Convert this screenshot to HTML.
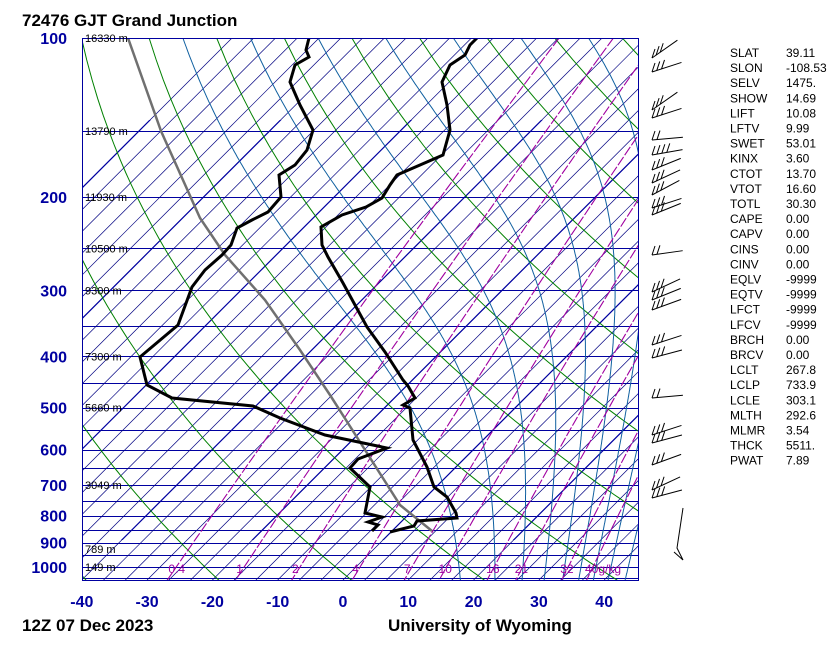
<!DOCTYPE html>
<html><head><meta charset="utf-8"><style>
body{margin:0;background:#fff;width:834px;height:650px;overflow:hidden}
svg{display:block}
.t{font-family:"Liberation Sans",sans-serif}
</style></head><body>
<svg id="s" width="834" height="650" xmlns="http://www.w3.org/2000/svg">
<defs><clipPath id="c"><rect x="82" y="38" width="556" height="542"/></clipPath>
<clipPath id="c2"><rect x="82" y="120" width="556" height="420"/></clipPath></defs>
<g id="g" clip-path="url(#c)"></g>
<g id="g2" clip-path="url(#c2)"></g>
<g id="g3" clip-path="url(#c)"></g>
<g id="o"></g>
<text class="t" x="22" y="26" font-size="17" font-weight="bold">72476 GJT Grand Junction</text>
<text class="t" x="22" y="631" font-size="17" font-weight="bold">12Z 07 Dec 2023</text>
<text class="t" x="388" y="631" font-size="17" font-weight="bold">University of Wyoming</text>
</svg>
<script>
var NS="http://www.w3.org/2000/svg",g=document.getElementById('g'),g2=document.getElementById('g2'),g3=document.getElementById('g3'),o=document.getElementById('o');
function el(p,t,a,txt){var e=document.createElementNS(NS,t);for(var k in a)e.setAttribute(k,a[k]);if(txt!=null)e.textContent=txt;p.appendChild(e);return e;}
function Y(p){return 38+229.7*Math.log(p/100);}
function X(T,p){return 343+6.53*T+(580-Y(p));}
function pl(pts,st,w,d,par){el(par||g,'polyline',{points:pts.map(function(q){return q[0].toFixed(1)+','+q[1].toFixed(1)}).join(' '),fill:'none',stroke:st,'stroke-width':w||1,'stroke-dasharray':d||'none'});}
for(var p=100;p<=1050;p+=50){var y=Math.round(Y(p))+0.5;el(g,'line',{x1:82,x2:638,y1:y,y2:y,stroke:'#0000a0','stroke-width':1});}
for(var i=-30;i<=12;i++){var x0=343+i*65.3/3;el(g,'line',{x1:x0,y1:580,x2:x0+560,y2:20,stroke:'#000080','stroke-width':0.7});
if(i%6==0)el(g2,'line',{x1:x0,y1:580,x2:x0+560,y2:20,stroke:'#0000a0','stroke-width':1.2});}
for(var th=210;th<=470;th+=20){var a=[];for(var p=100;p<=1060;p+=10){a.push([X(th*Math.pow(p/1000,0.286)-273.15,p),Y(p)]);}pl(a,'#008000',1,null,g3);}
function es(T){return 6.112*Math.exp(17.67*T/(T+243.5));}
function gm(T,p){var Tk=T+273.15,e=es(T),r=0.622*e/(p-e),L=2.5e6,Rd=287,cp=1005;
return (Rd*Tk+L*r)/(cp+L*L*r*0.622/(Rd*Tk*Tk))/p;}
for(var th=320;th<=560;th+=20){var T=th/1.932-273.15,a=[];for(var p=100;p<=1062;p+=2){a.push([X(T,p),Y(p)]);T+=gm(T,p)*2;}pl(a,'#1060a0',1,null,g3);}
var ws=[0.4,1,2,4,7,10,16,21,32,40];
ws.forEach(function(w){var a=[];for(var p=100;p<=1060;p+=20){var e=w*p/(622+w),l=Math.log(e/6.112),Td=243.5*l/(17.67-l);a.push([X(Td,p),Y(p)]);}pl(a,'#a000a0',1.1,'10,2',g3);
var e=w*1000/(622+w),l=Math.log(e/6.112),Td=243.5*l/(17.67-l);el(o,'text',{x:X(Td,1000)-8,y:573,'font-size':12,fill:'#a000a0','class':'t'},w==40?'40g/kg':String(w));});
pl([[128,38],[161,131],[200,218],[225,255],[265,300],[300,350],[330,395],[360,442],[400,505],[432,531]],'#707070',2.5,null,g3);
pl([[309,38],[306,50],[309,57],[295,65],[290,82],[300,105],[313,130],[307,150],[295,165],[279,175],[281,197],[268,212],[252,220],[237,228],[231,245],[222,255],[205,270],[192,287],[178,325],[140,357],[147,385],[172,398],[253,406],[280,418],[325,435],[387,448],[358,459],[350,468],[370,487],[365,513],[382,517],[368,522],[378,525],[372,531]],'#000',3,null,g3);
pl([[477,38],[470,45],[465,55],[450,65],[442,82],[447,105],[450,130],[443,155],[420,165],[397,175],[390,185],[382,198],[366,207],[342,215],[321,227],[322,245],[328,257],[343,283],[367,327],[385,352],[403,380],[408,386],[415,398],[403,405],[410,408],[413,440],[427,467],[434,487],[447,497],[456,513],[457,518],[417,521],[414,526],[390,532]],'#000',3,null,g3);
el(o,'rect',{x:82.5,y:38.5,width:556,height:542,fill:'none',stroke:'#0000a0','stroke-width':1});
[100,200,300,400,500,600,700,800,900,1000].forEach(function(p){el(o,'text',{x:67,y:Y(p)+6,'font-size':16,'font-weight':'bold',fill:'#0000a0','text-anchor':'end','class':'t'},String(p));});
[[16330,100],[13790,150],[11930,200],[10500,250],[9300,300],[7300,400],[5660,500],[3049,700],[789,925],[149,1000]].forEach(function(h){el(o,'text',{x:85,y:Y(h[1])+4,'font-size':11,fill:'#000','class':'t'},h[0]+' m');});
for(var T=-40;T<=40;T+=10){el(o,'text',{x:343+6.53*T,y:607,'font-size':16,'font-weight':'bold',fill:'#0000a0','text-anchor':'middle','class':'t'},String(T));}
[[58,35,3],[72,18,3],[110,35,3],[118,18,3],[140,5,2],[155,10,4],[170,22,3],[183,25,3],[195,28,3],[208,18,3],[215,22,3],[255,8,2],[292,25,3],[300,22,3],[310,20,3],[345,18,3],[358,15,3],[398,5,2],[435,18,3],[443,15,3],[465,20,3],[490,25,3],[498,15,3]].forEach(function(b){
var y=b[0],ang=b[1]*Math.PI/180,x0=652,L=31,x1=x0+L*Math.cos(ang),y1=y-L*Math.sin(ang);
el(o,'line',{x1:x0,y1:y,x2:x1,y2:y1,stroke:'#000'});
for(var k=0;k<b[2];k++){var bx=x0+k*5*Math.cos(ang),by=y-k*5*Math.sin(ang);el(o,'line',{x1:bx,y1:by,x2:bx+3,y2:by-9,stroke:'#000'});}});
el(o,'polyline',{points:'683,508 677,548 683,560 674,552',fill:'none',stroke:'#000'});
var tb=[["SLAT","39.11"],["SLON","-108.53"],["SELV","1475."],["SHOW","14.69"],["LIFT","10.08"],["LFTV","9.99"],["SWET","53.01"],["KINX","3.60"],["CTOT","13.70"],["VTOT","16.60"],["TOTL","30.30"],["CAPE","0.00"],["CAPV","0.00"],["CINS","0.00"],["CINV","0.00"],["EQLV","-9999"],["EQTV","-9999"],["LFCT","-9999"],["LFCV","-9999"],["BRCH","0.00"],["BRCV","0.00"],["LCLT","267.8"],["LCLP","733.9"],["LCLE","303.1"],["MLTH","292.6"],["MLMR","3.54"],["THCK","5511."],["PWAT","7.89"]];
tb.forEach(function(r,i){var y=57+i*15.1;el(o,'text',{x:730,y:y,'font-size':12,'class':'t'},r[0]);el(o,'text',{x:786,y:y,'font-size':12,'class':'t'},r[1]);});
</script>
</body></html>
